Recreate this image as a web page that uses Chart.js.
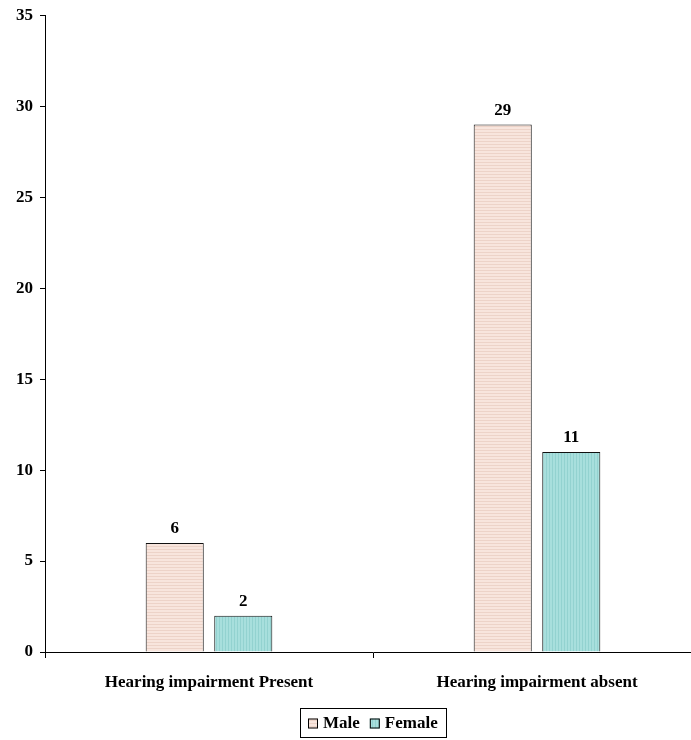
<!DOCTYPE html>
<html>
<head>
<meta charset="utf-8">
<script src="https://cdn.jsdelivr.net/npm/chart.js"></script>
<style>
    html, body { margin: 0; padding: 0; background: #fff; overflow: hidden; }
    #wrap { width: 701px; height: 740px; }
</style>
</head>
<body>
<div id="wrap"><canvas id="chart"></canvas></div>
<script>
const categories = ['Hearing impairment Present', 'Hearing impairment absent'];
const maleValues = [6, 29];
const femaleValues = [2, 11];
const yTicks = [0, 5, 10, 15, 20, 25, 30, 35];

const serif = '"Liberation Serif", "Times New Roman", serif';

// small striped fills like the original
function makePattern(base, line, vertical) {
    const c = document.createElement('canvas');
    c.width = 3; c.height = 3;
    const g = c.getContext('2d');
    g.fillStyle = base;
    g.fillRect(0, 0, 3, 3);
    g.fillStyle = line;
    if (vertical) g.fillRect(0, 0, 1, 3); else g.fillRect(0, 0, 3, 1);
    return g.createPattern(c, 'repeat');
}
const maleFill = makePattern('#F8E5DD', '#EDD3C8', false);
const femaleFill = makePattern('#A8DFDD', '#93D2D0', true);

// value labels above bars
const valueLabels = {
    id: 'valueLabels',
    afterDatasetsDraw(chart) {
        const ctx = chart.ctx;
        ctx.save();
        ctx.font = 'bold 17px ' + serif;
        ctx.fillStyle = '#000';
        ctx.textAlign = 'center';
        ctx.textBaseline = 'alphabetic';
        chart.data.datasets.forEach((ds, i) => {
            chart.getDatasetMeta(i).data.forEach((bar, j) => {
                ctx.fillText(ds.data[j], bar.x, bar.y - 10);
            });
        });
        ctx.restore();
    }
};

// boxed legend under the axis, centred on the plot area
const boxedLegend = {
    id: 'boxedLegend',
    afterDraw(chart) {
        const ctx = chart.ctx;
        const area = chart.chartArea;
        ctx.save();
        ctx.font = 'bold 17px ' + serif;
        ctx.textBaseline = 'middle';
        ctx.textAlign = 'left';
        const box = 10, gap = 5, itemGap = 10, pad = 8;
        const items = chart.data.datasets.map(ds => ({
            label: ds.label, fill: ds.backgroundColor, w: ctx.measureText(ds.label).width
        }));
        let total = items.reduce((s, it) => s + box + gap + it.w, 0) + itemGap * (items.length - 1);
        const w = Math.round(total + pad * 2);
        const h = 29;
        const left = Math.round((area.left + area.right) / 2 - w / 2);
        const top = 708;
        ctx.strokeStyle = '#000';
        ctx.lineWidth = 1;
        ctx.strokeRect(left + 0.5, top + 0.5, w, h);
        let x = left + pad;
        const cy = top + h / 2 + 1;
        items.forEach(it => {
            ctx.fillStyle = it.fill;
            ctx.fillRect(x, cy - box / 2, box, box);
            ctx.strokeStyle = '#000';
            ctx.strokeRect(x + 0.5, cy - box / 2 + 0.5, box - 1, box - 1);
            ctx.fillStyle = '#000';
            ctx.fillText(it.label, x + box + gap, cy);
            x += box + gap + it.w + itemGap;
        });
        ctx.restore();
    }
};

new Chart(document.getElementById('chart'), {
    type: 'bar',
    data: {
        labels: categories,
        datasets: [{
            label: 'Male',
            data: maleValues,
            backgroundColor: maleFill,
            borderColor: '#111',
            borderWidth: 1,
            categoryPercentage: 0.418,
            barPercentage: 0.847
        }, {
            label: 'Female',
            data: femaleValues,
            backgroundColor: femaleFill,
            borderColor: '#111',
            borderWidth: 1,
            categoryPercentage: 0.418,
            barPercentage: 0.847
        }]
    },
    options: {
        responsive: true,
        maintainAspectRatio: false,
        animation: false,
        layout: { padding: { top: 14, right: 0, bottom: 0, left: 0 } },
        plugins: {
            tooltip: { enabled: false },
            legend: { display: false }
        },
        scales: {
            x: {
                afterFit(scale) { scale.height = 88; },
                grid: { display: true, drawOnChartArea: false, offset: true, tickLength: 6, color: '#000' },
                border: { color: '#000', width: 1 },
                ticks: {
                    font: { family: serif, size: 17, weight: 'bold' },
                    color: '#000',
                    padding: 14,
                    maxRotation: 0
                }
            },
            y: {
                min: 0,
                max: 35,
                afterFit(scale) { scale.width = 45; },
                afterBuildTicks(scale) { scale.ticks = yTicks.map(v => ({ value: v })); },
                grid: { display: true, drawOnChartArea: false, tickLength: 5, color: '#000' },
                border: { color: '#000', width: 1 },
                ticks: {
                    font: { family: serif, size: 17, weight: 'bold', lineHeight: 1 },
                    color: '#000',
                    padding: 7
                }
            }
        }
    },
    plugins: [valueLabels, boxedLegend]
});
</script>
</body>
</html>
